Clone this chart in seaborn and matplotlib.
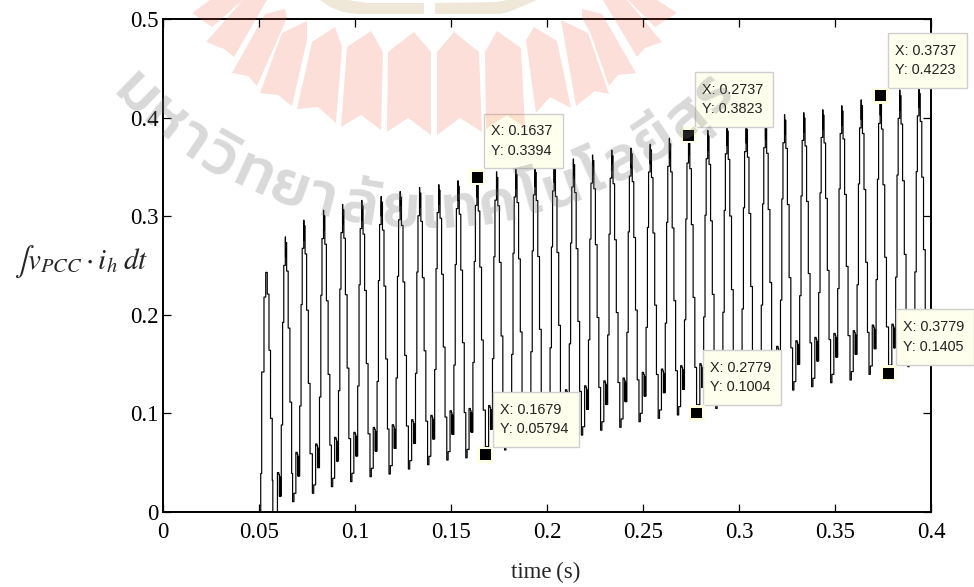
# Integral of v_PCC * i_h over time, with data tips
import numpy as np
import pandas as pd
import matplotlib
matplotlib.use('Agg')
import matplotlib.pyplot as plt
from matplotlib.font_manager import FontProperties
from matplotlib.patches import Polygon, Rectangle
from matplotlib.textpath import TextPath
import seaborn as sns

# Values, one per 100 Hz cycle
trough_times = [0.0579, 0.0675, 0.0778, 0.0877, 0.0977, 0.1078, 0.1177, 0.1278, 0.1378, 0.1478,
                0.1577, 0.1679, 0.1779, 0.1879, 0.1979, 0.2079, 0.2179, 0.2279, 0.2379, 0.2479,
                0.2579, 0.2679, 0.2779, 0.2879, 0.2979, 0.3079, 0.3179, 0.3279, 0.3378, 0.3477,
                0.3578, 0.3677, 0.3779, 0.3879, 0.3979]
trough_values = [-0.010, 0.0105, 0.019, 0.0257, 0.0308, 0.0358, 0.0385, 0.0436, 0.048, 0.0527,
                 0.055, 0.05794, 0.0629, 0.066, 0.070, 0.074, 0.078, 0.083, 0.0859, 0.0916,
                 0.095, 0.0984, 0.1004, 0.105, 0.109, 0.113, 0.118, 0.1237, 0.1271, 0.1311,
                 0.1339, 0.1396, 0.1405, 0.1474, 0.151]
peak_values = [0.279, 0.296, 0.306, 0.312, 0.316, 0.320, 0.325, 0.329, 0.332, 0.336,
               0.3394, 0.345, 0.348, 0.350, 0.354, 0.358, 0.362, 0.367, 0.369, 0.373,
               0.379, 0.3823, 0.387, 0.392, 0.394, 0.398, 0.403, 0.405, 0.408, 0.412,
               0.418, 0.4223, 0.428, 0.430, 0.434]

# Start of the trace, before the first full cycle
start_times = [0.0, 0.05, 0.0509, 0.0514, 0.0526, 0.0535, 0.0543, 0.0552, 0.056, 0.0569, 0.0572]
start_values = [0.0, 0.0, 0.039, 0.142, 0.218, 0.243, 0.221, 0.164, 0.095, 0.032, -0.01]

# Stepped shape of one cycle: ms after the trough, lift above trough, share of trough-to-peak
shape_ms = [0.0, 0.7, 1.7, 2.4, 2.7, 2.85, 3.0, 3.15, 3.3, 3.7, 4.4, 5.0, 5.8, 5.9, 6.0, 6.5, 7.3, 8.2, 9.1]
shape_lift = [0.0, 0.0085, 0.05, 0.048, 0.026, 0.046, 0.026, 0.045, 0.026, 0, 0, 0, 0, 0, 0, 0, 0, 0, 0]
shape_share = [0, 0, 0, 0, 0, 0, 0, 0, 0, 0.34, 0.70, 0.90, 1.0, 0.93, 0.98, 0.88, 0.68, 0.42, 0.17]

# Data tips
tip_x = [0.1637, 0.2737, 0.3737, 0.1679, 0.2779, 0.3779]
tip_y = [0.3394, 0.3823, 0.4223, 0.05794, 0.1004, 0.1405]
tip_labels = ['X: 0.1637\nY: 0.3394', 'X: 0.2737\nY: 0.3823', 'X: 0.3737\nY: 0.4223',
              'X: 0.1679\nY: 0.05794', 'X: 0.2779\nY: 0.1004', 'X: 0.3779\nY: 0.1405']
tip_boxes = [(484, 114, 79, 54), (695, 72, 78, 55), (888, 33, 79, 55),
             (493, 392, 86, 55), (703, 350, 78, 55), (896, 309, 78, 56)]

x_ticks = [0, 0.05, 0.1, 0.15, 0.2, 0.25, 0.3, 0.35, 0.4]
x_tick_labels = ['0', '0.05', '0.1', '0.15', '0.2', '0.25', '0.3', '0.35', '0.4']
y_ticks = [0, 0.1, 0.2, 0.3, 0.4, 0.5]
y_tick_labels = ['0', '0.1', '0.2', '0.3', '0.4', '0.5']

# Watermark text, split so marks stay with their letter
watermark = ['ม', 'ห', 'า', 'วิ', 'ท', 'ย', 'า', 'ลั', 'ย', 'เ', 'ท', 'ค', 'โ', 'น', 'โ', 'ล', 'ยี', 'สุ', 'ร']

# Build the trace from the cycle values
times = list(start_times)
values = list(start_values)
for t0, low, high in zip(trough_times, trough_values, peak_values):
    for ms, lift, share in zip(shape_ms, shape_lift, shape_share):
        times.append(t0 + ms / 1000)
        values.append(low + lift + share * (high - low))
df = pd.DataFrame({'time': times, 'value': values})

sns.set_style('ticks')
plt.rcParams['font.family'] = ['Liberation Serif', 'DejaVu Serif']
plt.rcParams['mathtext.fontset'] = 'stix'

W, H = 974, 587
fig = plt.figure(figsize=(W / 100, H / 100), dpi=100)

# Main axes
ax = fig.add_axes([163 / W, 1 - 512 / H, 768 / W, 493 / H], zorder=1)
sns.lineplot(data=df, x='time', y='value', color='black', linewidth=0.85, estimator=None,
             sort=False, drawstyle='steps-post', ax=ax)
ax.set_xlim(0, 0.4)
ax.set_ylim(0, 0.5)
ax.set_xticks(x_ticks, x_tick_labels)
ax.set_yticks(y_ticks, y_tick_labels)
ax.tick_params(direction='in', length=6, width=0.9, top=True, right=True, labelsize=16.5, colors='black', pad=3)
ax.tick_params(axis='x', pad=7)
for s in ax.spines.values():
    s.set_visible(True)
    s.set_linewidth(1.4)
    s.set_color('black')
ax.set_xlabel('')
ax.set_ylabel('')

# Tip boxes and labels, pixel coordinates
top = fig.add_axes([0, 0, 1, 1], zorder=2)
top.set_xlim(0, W)
top.set_ylim(H, 0)
top.axis('off')
for (bx, by, bw, bh), label in zip(tip_boxes, tip_labels):
    top.add_patch(Rectangle((bx, by), bw, bh, facecolor='#ffffee', edgecolor='#cfcfcf', linewidth=1))
    top.text(bx + 7, by + bh / 2, label, fontsize=10.4, family='Liberation Sans', color='#222222',
             va='center', ha='left', linespacing=1.5)

# Tip markers
mark = fig.add_axes(ax.get_position(), zorder=3)
mark.patch.set_alpha(0)
mark.axis('off')
mark.set_xlim(0, 0.4)
mark.set_ylim(0, 0.5)
sns.scatterplot(x=tip_x, y=tip_y, marker='s', s=133, color='#ffffe0', edgecolor='none', ax=mark, clip_on=False)
sns.scatterplot(x=tip_x, y=tip_y, marker='s', s=62, color='black', edgecolor='none', ax=mark, clip_on=False)

fig.text(546 / W, 1 - 572 / H, 'time\u2009(s)', ha='center', va='center', fontsize=16.5)
fig.text(14 / W, 1 - 262 / H, r'$\int v_{PCC}\cdot i_h\;dt$', ha='left', va='center', fontsize=21)

# Watermark goes over everything, see-through
over = fig.add_axes([0, 0, 1, 1], zorder=4)
over.set_xlim(0, W)
over.set_ylim(H, 0)
over.axis('off')
blades = [
    [(192, 13), (212, 27), (243, 0), (210, 0)],
    [(206, 42), (224, 49), (234, 57), (267, 0), (243, 0)],
    [(232, 73), (248, 76), (257, 86), (287, 18), (285, 9), (265, 14)],
    [(260, 93), (278, 95), (292, 106), (307, 40), (307, 21), (282, 33)],
    [(297, 109), (318, 107), (336, 123), (342, 47), (335, 27), (312, 42)],
    [(341, 127), (361, 115), (381, 130), (383, 52), (371, 31), (347, 47)],
    [(387, 132), (408, 118), (431, 135), (431, 52), (414, 32), (388, 52)],
    [(437, 135), (460, 118), (482, 132), (479, 52), (454, 32), (437, 52)],
    [(486, 129), (507, 115), (525, 128), (521, 48), (497, 31), (485, 52)],
    [(536, 113), (550, 97), (571, 108), (557, 41), (534, 27), (526, 40)],
    [(576, 106), (595, 91), (609, 94), (588, 33), (561, 20)],
    [(582, 9), (602, 14), (636, 73), (618, 75), (609, 86), (590, 32), (582, 18)],
    [(603, 0), (637, 57), (645, 48), (662, 42), (627, 0)],
    [(628, 0), (655, 27), (677, 13), (657, 0)],
]
for pts in blades:
    over.add_patch(Polygon(pts, closed=True, facecolor=(245 / 255, 95 / 255, 65 / 255), alpha=0.2, edgecolor='none'))
ring = [
    [(320, 0), (330, 7), (343, 12), (357, 14), (424, 14), (424, 3), (367, 3), (348, 0)],
    [(435, 3), (435, 14), (500, 14), (508, 12), (523, 6), (537, 0), (507, 0), (497, 2)],
]
for pts in ring:
    over.add_patch(Polygon(pts, closed=True, facecolor=(175 / 255, 140 / 255, 65 / 255), alpha=0.2, edgecolor='none'))

# Letters along an arc
wm_size = 44
wm_font = FontProperties(family=['Kanit', 'DejaVu Sans'], weight='medium')
wm_widths = [TextPath((0, 0), c, size=wm_size, prop=wm_font).get_extents().width + 8 for c in watermark]
wm_edges = np.cumsum([0] + wm_widths)
wm_total = wm_edges[-1]
cx, cy, radius = 425, -200, 428
for c, left, width in zip(watermark, wm_edges[:-1], wm_widths):
    phi = np.radians(-47 + 94 * (left + width / 2) / wm_total)
    over.text(cx + radius * np.sin(phi), cy + radius * np.cos(phi), c, fontproperties=wm_font, fontsize=wm_size,
              color='#767676', alpha=0.28, rotation=np.degrees(phi), rotation_mode='anchor',
              ha='center', va='baseline')

fig.savefig('out.png', dpi=100)
